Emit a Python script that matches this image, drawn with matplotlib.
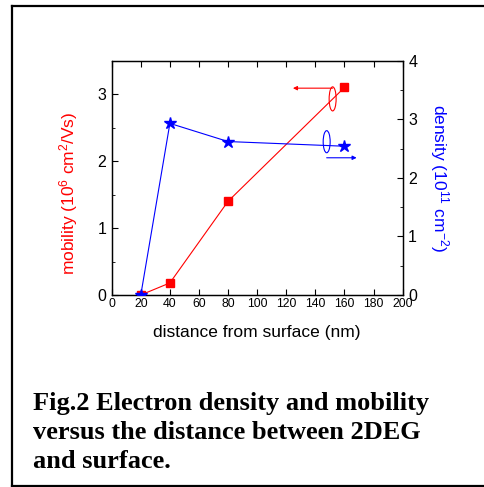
import matplotlib
matplotlib.use("Agg")
import matplotlib.pyplot as plt
from matplotlib.patches import Ellipse
from matplotlib.lines import Line2D

plt.rcParams['font.family'] = ['Liberation Sans', 'DejaVu Sans']
plt.rcParams['mathtext.fontset'] = 'custom'
plt.rcParams['mathtext.rm'] = 'Liberation Sans'
plt.rcParams['mathtext.it'] = 'Liberation Sans'

distance = [20, 40, 80, 160]
mobility = [0.0, 0.18, 1.4, 3.1]
density = [0.0, 2.93, 2.62, 2.54]
x_ticks = [0, 20, 40, 60, 80, 100, 120, 140, 160, 180, 200]

caption = "Fig.2 Electron density and mobility\nversus the distance between 2DEG\nand surface."

fig = plt.figure(figsize=(4.84, 4.87), dpi=100)
ax = fig.add_axes([0.2308, 0.3943, 0.601, 0.481])
ax2 = ax.twinx()

ax.plot(distance, mobility, color='red', lw=0.8, marker='s', ms=6.3, zorder=3)
ax2.plot(distance, density, color='blue', lw=0.8, marker='*', ms=9, zorder=3)

ax.set_xlim(0, 200)
ax.set_ylim(0, 3.5)
ax2.set_ylim(0, 4)
ax.set_xticks(x_ticks)
ax.set_yticks([0, 1, 2, 3])
ax.set_yticks([0.5, 1.5, 2.5, 3.5], minor=True)
ax2.set_yticks([0, 1, 2, 3, 4])
ax2.set_yticks([0.5, 1.5, 2.5, 3.5], minor=True)

ax.tick_params(axis='x', which='both', direction='in', top=True, labelsize=8.8, length=4, pad=2)
ax.tick_params(axis='y', which='major', direction='in', right=False, labelsize=11.5, length=4, pad=4)
ax.tick_params(axis='y', which='minor', direction='in', right=False, length=2.5)
ax2.tick_params(axis='y', which='major', direction='in', labelsize=11.5, length=4, pad=4)
ax2.tick_params(axis='y', which='minor', direction='in', length=2.5)

for a in (ax, ax2):
    for s in a.spines.values():
        s.set_linewidth(0.9)

ax.set_xlabel('distance from surface (nm)', fontsize=12.5, labelpad=11)
ax.set_ylabel(r'mobility (10$^{6}$ cm$^{2}$/Vs)', fontsize=12.5, color='red')
ax.yaxis.set_label_coords(-0.11, 0.433)
ax2.set_ylabel(r'density (10$^{11}$ cm$^{-2}$)', fontsize=12.5, color='blue', rotation=-90, labelpad=24)

# annotation ellipses and arrows
ax.add_patch(Ellipse((151.9, 2.93), 4.8, 0.36, fill=False, ec='red', lw=0.8, zorder=2))
ax.annotate('', xy=(124.6, 3.09), xytext=(151.9, 3.09),
            arrowprops=dict(arrowstyle='-|>', color='red', lw=0.8, mutation_scale=6, shrinkA=0, shrinkB=0))
ax.add_patch(Ellipse((147.8, 2.29), 4.8, 0.33, fill=False, ec='blue', lw=0.8, zorder=2))
ax.annotate('', xy=(168.4, 2.05), xytext=(147.8, 2.05),
            arrowprops=dict(arrowstyle='-|>', color='blue', lw=0.8, mutation_scale=6, shrinkA=0, shrinkB=0))

# frame
W, H = 484, 487
fig.add_artist(Line2D([12/W, 12/W], [1-6/H, 1-486/H], transform=fig.transFigure, color='black', lw=1.6))
fig.add_artist(Line2D([12/W, 1.0], [1-6/H, 1-6/H], transform=fig.transFigure, color='black', lw=1.6))
fig.add_artist(Line2D([12/W, 1.0], [1-486/H, 1-486/H], transform=fig.transFigure, color='black', lw=1.6))

fig.text(33/W, 1-468/H, caption, fontsize=19, fontweight='bold', family='Liberation Serif',
         ha='left', va='baseline', linespacing=1.34)

fig.savefig('out.png', dpi=100)
